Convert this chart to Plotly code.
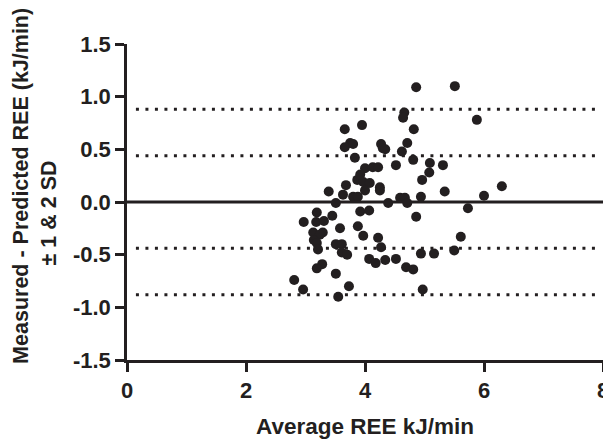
import plotly.graph_objects as go

avg_ree = [5.51, 4.86, 5.88, 4.66, 4.64, 4.82, 3.66, 3.95, 3.75, 3.66,
           3.80, 4.27, 4.30, 4.71, 4.62, 3.83, 4.81, 5.09, 5.08, 5.31,
           4.52, 4.00, 4.13, 4.22, 4.96, 3.87, 3.97, 4.08, 4.25, 3.39,
           3.68, 5.34, 6.30, 6.00, 5.73, 5.61, 5.50, 3.63, 3.80, 3.88,
           3.51, 4.00, 4.25, 4.39, 4.59, 4.67, 4.71, 4.94, 3.92, 4.07,
           4.86, 3.19, 3.45, 2.97, 3.18, 3.31, 3.58, 3.88, 3.13, 3.29,
           3.24, 3.97, 3.14, 3.19, 4.22, 3.51, 3.61, 3.21, 4.27, 3.61,
           3.70, 4.94, 5.16, 4.07, 4.18, 4.34, 4.52, 4.69, 4.81, 3.28,
           3.19, 3.51, 2.81, 2.96, 3.73, 4.97, 3.55, 3.92, 4.34]
diff_ree = [1.10, 1.09, 0.78, 0.85, 0.80, 0.69, 0.69, 0.73, 0.56, 0.52,
            0.55, 0.55, 0.51, 0.56, 0.48, 0.42, 0.40, 0.37, 0.28, 0.35,
            0.35, 0.32, 0.33, 0.33, 0.21, 0.21, 0.19, 0.18, 0.14, 0.10,
            0.16, 0.10, 0.15, 0.06, -0.06, -0.33, -0.46, 0.07, 0.05, 0.05,
            -0.01, 0.11, 0.11, -0.01, 0.04, 0.04, -0.01, 0.05, -0.09, -0.08,
            -0.14, -0.10, -0.13, -0.19, -0.19, -0.18, -0.25, -0.23, -0.29, -0.29,
            -0.31, -0.32, -0.36, -0.39, -0.34, -0.40, -0.40, -0.45, -0.43, -0.48,
            -0.50, -0.49, -0.49, -0.54, -0.58, -0.55, -0.54, -0.62, -0.64, -0.59,
            -0.63, -0.68, -0.74, -0.83, -0.80, -0.83, -0.90, 0.26, 0.50]

mean_diff = 0.0
sd_diff = 0.44
line_x = [0, 8]
dot_x = [0.15, 7.9]

x_ticks = [0, 2, 4, 6, 8]
y_ticks = [-1.5, -1.0, -0.5, 0.0, 0.5, 1.0, 1.5]

ink = "#231f20"
fnt = "Liberation Sans, Arial, sans-serif"
tick_font = dict(family=fnt, size=22, color=ink, weight="bold")
ytitle_font = dict(family=fnt, size=21.5, color=ink, weight="bold")
xtitle_font = dict(family=fnt, size=22.5, color=ink, weight="bold")

fig = go.Figure()

for k in (-2, -1, 1, 2):
    lvl = mean_diff + k * sd_diff
    fig.add_trace(go.Scatter(x=dot_x, y=[lvl, lvl], mode="lines",
                             line=dict(color=ink, width=3, dash="3px,6.5px"),
                             hoverinfo="skip", showlegend=False))

fig.add_trace(go.Scatter(x=line_x, y=[mean_diff, mean_diff], mode="lines",
                         line=dict(color=ink, width=3),
                         hoverinfo="skip", showlegend=False))

fig.add_trace(go.Scatter(x=avg_ree, y=diff_ree, mode="markers",
                         marker=dict(color=ink, size=10, line=dict(width=0)),
                         showlegend=False))

axis_common = dict(showgrid=False, zeroline=False, showline=True,
                   linecolor=ink, linewidth=2.5, ticks="outside",
                   tickcolor=ink, tickwidth=2.5, ticklen=9,
                   tickfont=tick_font, ticklabeloverflow="allow")

fig.update_xaxes(range=[0, 8], tickvals=x_ticks,
                 ticktext=[str(v) for v in x_ticks],
                 title=dict(text="Average REE kJ/min", font=xtitle_font,
                            standoff=22),
                 **axis_common)
fig.update_yaxes(range=[-1.5, 1.5], tickvals=y_ticks,
                 ticktext=[f"{v:.1f}" for v in y_ticks],
                 **axis_common)

fig.add_annotation(text="Measured - Predicted REE (kJ/min)",
                   xref="paper", yref="paper", x=-0.2227, y=0.551,
                   xanchor="center", yanchor="middle", textangle=-90,
                   showarrow=False, font=ytitle_font)
fig.add_annotation(text="± 1 & 2 SD",
                   xref="paper", yref="paper", x=-0.163, y=0.465,
                   xanchor="center", yanchor="middle", textangle=-90,
                   showarrow=False, font=ytitle_font)

fig.update_layout(width=603, height=431,
                  margin=dict(l=119, r=8, t=36, b=79, autoexpand=False),
                  plot_bgcolor="white", paper_bgcolor="white",
                  font=dict(family=fnt, color=ink))

fig.write_html("out.html")
